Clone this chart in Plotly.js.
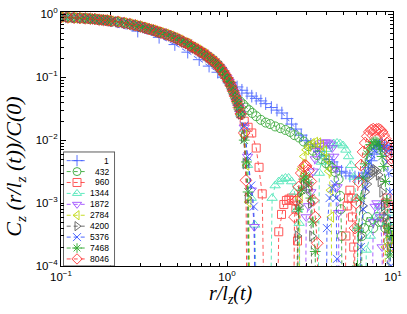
<!DOCTYPE html>
<html><head><meta charset="utf-8">
<script src="https://cdn.plot.ly/plotly-3.0.1.min.js"></script>
<style>html,body{margin:0;padding:0;background:#fff;} #chart{width:407px;height:314px;}</style>
</head><body><div id="chart"></div>
<script>
// ---------- data ----------
const labels = ['1','432','960','1344','1872','2784','4200','5376','7468','8046'];

// common early-time collapse curve shared by t >= 432
const mainX = [0.10,0.11,0.12,0.13,0.14,0.15,0.16,0.17,0.18,0.19,0.20,0.22,0.24,0.26,0.28,0.30,0.32,0.34,0.36,0.38,0.40,0.43,0.46,0.49,0.52,0.55,0.58,0.61,0.64,0.67,0.70,0.73,0.76,0.79,0.82,0.85,0.88,0.91,0.94,0.97,1.00,1.03,1.06,1.09,1.12,1.15,1.18,1.21];
const mainY = [0.90,0.89,0.88,0.87,0.86,0.85,0.84,0.82,0.81,0.80,0.78,0.76,0.73,0.70,0.67,0.64,0.61,0.58,0.56,0.53,0.51,0.48,0.45,0.42,0.39,0.36,0.34,0.31,0.29,0.27,0.25,0.235,0.215,0.20,0.185,0.17,0.155,0.14,0.125,0.11,0.097,0.085,0.072,0.06,0.05,0.041,0.033,0.026];

// t = 1
const x1 = [0.10,0.29,0.39,0.485,0.58,0.68,0.78,0.88,0.95,1.05,1.15,1.23,1.32,1.41,1.5,1.6,1.71,1.85,2.0,2.14,2.3,2.45,2.6,2.8,3.0,3.2,3.4,3.6,3.85,4.1,4.3,4.6,4.9,5.2,5.5,5.9,6.2,6.5,6.8,7.1,7.4,7.7,8.0,8.3,8.6,8.9,9.2,9.5,9.8];
const y1 = [0.92,0.54,0.43,0.33,0.25,0.19,0.15,0.12,0.1,0.082,0.07,0.062,0.056,0.05,0.046,0.042,0.038,0.033,0.03,0.027,0.022,0.018,0.015,0.012,0.0098,0.0086,0.0078,0.0066,0.0056,0.0049,0.0045,0.0037,0.0032,0.003,0.0027,0.0026,0.0025,0.0026,0.003,0.0037,0.0047,0.006,0.0072,0.0082,0.0086,0.0082,0.0077,0.0072,0.0068];

// tails after leaving the common curve (1e-6 = value at/below zero, off scale)
const join432 = 1.09;
const x432 = [1.15,1.2,1.25,1.3,1.36,1.42,1.5,1.6,1.71,1.82,1.95,2.1,2.25,2.4,2.55,2.72,2.9,3.1,3.3,3.5,3.72,3.95,4.15,4.3,4.5,4.7,4.8,4.85,4.9,5.0,6.4,6.5,6.7,7.0,7.3,7.6,8.0,8.3,8.6,9.0,9.4,9.7];
const y432 = [0.045,0.041,0.037,0.033,0.03,0.027,0.024,0.021,0.019,0.018,0.0165,0.0155,0.0145,0.0135,0.012,0.011,0.0095,0.008,0.0068,0.0058,0.005,0.0043,0.0039,0.0036,0.0031,0.0024,0.0013,0.0008,0.0003,1e-6,1e-6,0.0003,0.0004,0.0006,0.0005,0.0004,0.0006,0.0005,0.0005,0.0004,0.00025,1e-6];

const join960 = 1.21;
const x960 = [1.27,1.34,1.41,1.5,1.56,1.63,1.7,1.98,2.05,2.13,2.2,2.28,2.36,2.44,2.52,2.6,2.66,2.75,5.1,5.2,5.3,5.4,5.5,5.6,5.7,5.8,5.9,8.6,8.8,9.0,9.2,9.4,9.6,9.8];
const y960 = [0.02,0.016,0.013,0.0075,0.0037,0.0014,1e-6,1e-6,0.00035,0.00066,0.00095,0.0011,0.00115,0.0012,0.0011,0.0008,0.00025,1e-6,1e-6,0.0003,0.0009,0.0012,0.0016,0.0012,0.0006,0.0002,1e-6,1e-6,0.0006,0.001,0.0012,0.0009,0.0005,0.0002];

const join1344 = 1.21;
const x1344 = [1.27,1.33,1.4,1.47,1.55,1.8,1.87,1.95,2.05,2.15,2.25,2.35,2.45,2.55,2.65,2.72,2.8,3.5,3.6,3.7,3.85,4.0,4.2,4.4,4.6,4.8,5.0,5.2,5.4,5.6,5.8,6.0,6.1,6.2,6.8,6.9,7.3,7.8,8.3,8.8,9.2,9.5,9.8];
const y1344 = [0.015,0.004,0.0012,0.00045,1e-6,1e-6,0.0012,0.0019,0.0022,0.0024,0.0025,0.0025,0.0022,0.0015,0.0008,0.00048,1e-6,1e-6,0.003,0.0045,0.006,0.0072,0.0082,0.0088,0.009,0.0088,0.0082,0.007,0.0055,0.004,0.0026,0.0012,0.0004,1e-6,1e-6,0.00018,0.0003,0.0006,0.0009,0.0007,0.0005,0.0007,0.0004];

const join1872 = 1.21;
const x1872 = [1.27,1.33,1.4,1.46,1.52,2.95,3.0,3.1,3.2,3.3,3.4,3.5,3.6,3.75,3.9,4.05,4.2,4.3,4.4,4.5,4.6,4.7,4.75,7.4,7.6,7.8,8.0,8.2,8.4,8.6,8.7,9.3,9.5,9.7];
const y1872 = [0.016,0.0055,0.0016,0.00042,1e-6,1e-6,0.0006,0.0009,0.0015,0.0032,0.005,0.0068,0.0082,0.009,0.0093,0.0092,0.0086,0.0075,0.0055,0.0035,0.0018,0.0007,1e-6,1e-6,0.0005,0.00088,0.001,0.0009,0.0006,0.0002,1e-6,1e-6,0.0003,0.0002];

const join2784 = 1.21;
const x2784 = [1.27,1.31,1.35,1.4,2.7,2.75,2.8,2.9,3.0,3.1,3.25,3.4,3.55,3.7,3.85,4.0,4.1,4.2,4.25,4.3,8.8,9.0,9.3,9.6,9.8];
const y2784 = [0.012,0.004,0.00104,1e-6,1e-6,0.0012,0.0035,0.0055,0.007,0.008,0.0088,0.0092,0.009,0.0082,0.0068,0.005,0.0032,0.0016,0.0006,1e-6,1e-6,0.0002,0.0004,0.0003,0.0002];

const join4200 = 1.21;
const x4200 = [1.26,1.29,1.33,1.36,2.6,2.66,2.72,2.8,2.9,3.0,3.1,3.2,3.25,3.3,6.3,6.4,6.6,6.8,7.0,7.2,7.4,7.6,7.8,8.0,8.2,8.4,8.6,8.8,9.0,9.2,9.4];
const y4200 = [0.011,0.0042,0.0012,1e-6,1e-6,0.0003,0.0009,0.0015,0.0019,0.002,0.0017,0.001,0.0003,1e-6,1e-6,0.0003,0.0009,0.0015,0.002,0.0026,0.003,0.0033,0.0034,0.0032,0.0028,0.0022,0.0015,0.0009,0.0006,0.0004,1e-6];

const join5376 = 1.21;
const x5376 = [1.27,1.33,1.4,1.45,1.5,3.95,4.0,4.15,4.3,4.45,4.55,4.6,4.65,6.3,6.4,6.6,6.8,7.0,7.2,7.4,7.6,7.8,8.0,8.2,8.4,8.6,8.8,9.0,9.2,9.4,9.6,9.7,9.75];
const y5376 = [0.017,0.0055,0.0019,0.00088,1e-6,1e-6,0.0004,0.0012,0.0017,0.002,0.0012,0.00013,1e-6,1e-6,0.0002,0.0008,0.0018,0.003,0.0045,0.006,0.0072,0.0082,0.0088,0.009,0.0088,0.0082,0.0072,0.006,0.0045,0.003,0.0015,0.0001,1e-6];

const join7468 = 1.21;
const x7468 = [1.27,1.31,1.34,1.37,2.6,2.7,2.8,2.9,2.95,3.0,3.1,3.2,3.3,3.4,3.45,6.0,6.1,6.2,6.4,6.6,6.8,7.0,7.2,7.4,7.6,7.8,8.0,8.2,8.4,8.6,8.8,9.0,9.2,9.4,9.6,9.8];
const y7468 = [0.01,0.0045,0.0015,1e-6,1e-6,0.0008,0.0016,0.0024,0.0027,0.0026,0.0021,0.0012,0.0005,0.00017,1e-6,1e-6,0.0001,0.0004,0.0012,0.0025,0.0042,0.006,0.0075,0.0085,0.0092,0.0095,0.0093,0.0085,0.0072,0.0055,0.0038,0.0022,0.0011,0.0004,0.00015,0.0003];

const join8046 = 1.21;
const x8046 = [1.27,1.3,1.33,2.5,2.55,2.62,2.7,2.8,2.9,2.95,3.0,3.1,3.2,3.3,3.4,3.5,3.55,5.8,5.9,6.0,6.2,6.4,6.6,6.8,7.0,7.2,7.4,7.6,7.8,8.0,8.2,8.4,8.6,8.8,9.0,9.2,9.4,9.6,9.8,9.95];
const y8046 = [0.013,0.0023,1e-6,1e-6,0.0006,0.0011,0.0018,0.003,0.0038,0.004,0.0039,0.0033,0.0022,0.0011,0.0006,0.00023,1e-6,1e-6,0.0004,0.001,0.0022,0.004,0.0065,0.009,0.0115,0.0135,0.0145,0.015,0.0145,0.0148,0.015,0.0145,0.0135,0.012,0.0105,0.009,0.0075,0.0062,0.0052,0.0045];

const xTickVals = [0.1, 1, 10];
const xTickText = ['10<sup>\u22121</sup>', '10<sup>0</sup>', '10<sup>1</sup>'];
const yTickVals = [1e-4, 1e-3, 1e-2, 1e-1, 1];
const yTickText = ['10<sup>\u22124</sup>', '10<sup>\u22123</sup>', '10<sup>\u22122</sup>', '10<sup>\u22121</sup>', '10<sup>0</sup>'];

// ---------- styles ----------
const colors = ['#3f5cff','#2fa52f','#ff3b3b','#45e6b4','#9b45ff','#bcd600','#555555','#2c4cff','#24a524','#ff2a2a'];
const symbols = ['cross-thin-open','circle-open','square-open','triangle-up-open','triangle-down-open','triangle-left-open','triangle-right-open','x-thin-open','asterisk-open','diamond-open'];
const sizes = [9,9,8,9,9,9,9,8,9,9];

function withMain(join, tx, ty) {
  const xs = [], ys = [];
  for (let i = 0; i < mainX.length; i++) {
    if (mainX[i] <= join + 1e-9) { xs.push(mainX[i]); ys.push(mainY[i]); }
  }
  return [xs.concat(tx), ys.concat(ty)];
}

const seriesData = [
  [x1, y1],
  withMain(join432, x432, y432),
  withMain(join960, x960, y960),
  withMain(join1344, x1344, y1344),
  withMain(join1872, x1872, y1872),
  withMain(join2784, x2784, y2784),
  withMain(join4200, x4200, y4200),
  withMain(join5376, x5376, y5376),
  withMain(join7468, x7468, y7468),
  withMain(join8046, x8046, y8046)
];

const traces = [];
seriesData.forEach((d, i) => {
  traces.push({
    type: 'scatter', mode: 'lines+markers', x: d[0], y: d[1], name: labels[i],
    showlegend: false, cliponaxis: true, opacity: 0.85,
    line: {color: colors[i], width: 1, dash: '4px,3px'},
    marker: {symbol: symbols[i], size: sizes[i], color: colors[i], line: {color: colors[i], width: 1}}
  });
});

// custom legend drawn on a hidden helper axis pair
labels.forEach((lab, i) => {
  traces.push({
    type: 'scatter', mode: 'lines', x: [0.054, 0.46], y: [i + 1, i + 1], xaxis: 'x2', yaxis: 'y2',
    showlegend: false, hoverinfo: 'skip', opacity: 0.85,
    line: {color: colors[i], width: 1, dash: '4px,3px'}
  });
  traces.push({
    type: 'scatter', mode: 'markers', x: [0.26], y: [i + 1], xaxis: 'x2', yaxis: 'y2',
    showlegend: false, hoverinfo: 'skip', opacity: 0.85,
    marker: {symbol: symbols[i], size: 8, color: colors[i], line: {color: colors[i], width: 1}}
  });
});

const legendAnn = labels.map((lab, i) => ({
  xref: 'x2', yref: 'y2', x: 0.93, y: i + 1, xanchor: 'right', yanchor: 'middle',
  text: lab, showarrow: false, font: {family: 'Liberation Sans, Arial, sans-serif', size: 8.5, color: '#000'}
}));

const tickFont = {family: 'Liberation Sans, Arial, sans-serif', size: 11.5, color: '#000'};
const layout = {
  width: 407, height: 314,
  margin: {l: 61, r: 14, t: 12, b: 48, pad: 0},
  paper_bgcolor: '#fff', plot_bgcolor: '#fff',
  showlegend: false,
  xaxis: {
    type: 'log', range: [-1, 1], autorange: false,
    tickmode: 'array', tickvals: xTickVals, ticktext: xTickText,
    ticks: 'inside', ticklen: 5, tickwidth: 1, tickcolor: '#000',
    showline: true, linecolor: '#000', linewidth: 1, mirror: 'ticks',
    showgrid: false, zeroline: false, tickfont: tickFont,
    minor: {tickmode: 'array', tickvals: [0.2,0.3,0.4,0.5,0.6,0.7,0.8,0.9,2,3,4,5,6,7,8,9], ticks: 'inside', ticklen: 3, tickcolor: '#000', showgrid: false}
  },
  yaxis: {
    type: 'log', range: [-4, 0.036], autorange: false,
    tickmode: 'array', tickvals: yTickVals, ticktext: yTickText,
    ticks: 'inside', ticklen: 5, tickwidth: 1, tickcolor: '#000',
    showline: true, linecolor: '#000', linewidth: 1, mirror: 'ticks',
    showgrid: false, zeroline: false, tickfont: tickFont,
    minor: {tickmode: 'array', tickvals: [2e-4,3e-4,4e-4,5e-4,6e-4,7e-4,8e-4,9e-4,2e-3,3e-3,4e-3,5e-3,6e-3,7e-3,8e-3,9e-3,2e-2,3e-2,4e-2,5e-2,6e-2,7e-2,8e-2,9e-2,0.2,0.3,0.4,0.5,0.6,0.7,0.8,0.9], ticks: 'inside', ticklen: 3, tickcolor: '#000', showgrid: false}
  },
  xaxis2: {domain: [0.009, 0.16], range: [0, 1], visible: false, showticklabels: false, anchor: 'y2', fixedrange: true},
  yaxis2: {domain: [0.002, 0.447], range: [10.6, 0.25], autorange: false, visible: false, showticklabels: false, anchor: 'x2', fixedrange: true},
  shapes: [{type: 'rect', xref: 'paper', yref: 'paper', x0: 0.009, x1: 0.16, y0: 0.002, y1: 0.447,
            line: {color: '#555555', width: 1.8}, fillcolor: '#fff', layer: 'below'}],
  annotations: legendAnn.concat([
    {xref: 'paper', yref: 'paper', x: -0.139, y: 0.39, xanchor: 'center', yanchor: 'middle', textangle: -90,
     showarrow: false, font: {family: 'Liberation Serif, Times New Roman, serif', size: 22, color: '#000'},
     text: '<i>C</i><sub><i>z</i></sub><i> (r/l</i><sub><i>z</i></sub><i> (t))/C(0)</i>'},
    {xref: 'paper', yref: 'paper', x: 0.512, y: -0.112, xanchor: 'center', yanchor: 'middle',
     showarrow: false, font: {family: 'Liberation Serif, Times New Roman, serif', size: 20, color: '#000'},
     text: '<i>r/l</i><sub><i>z</i></sub><i>(t)</i>'}
  ])
};

Plotly.newPlot('chart', traces, layout, {staticPlot: true, displayModeBar: false});
</script></body></html>
